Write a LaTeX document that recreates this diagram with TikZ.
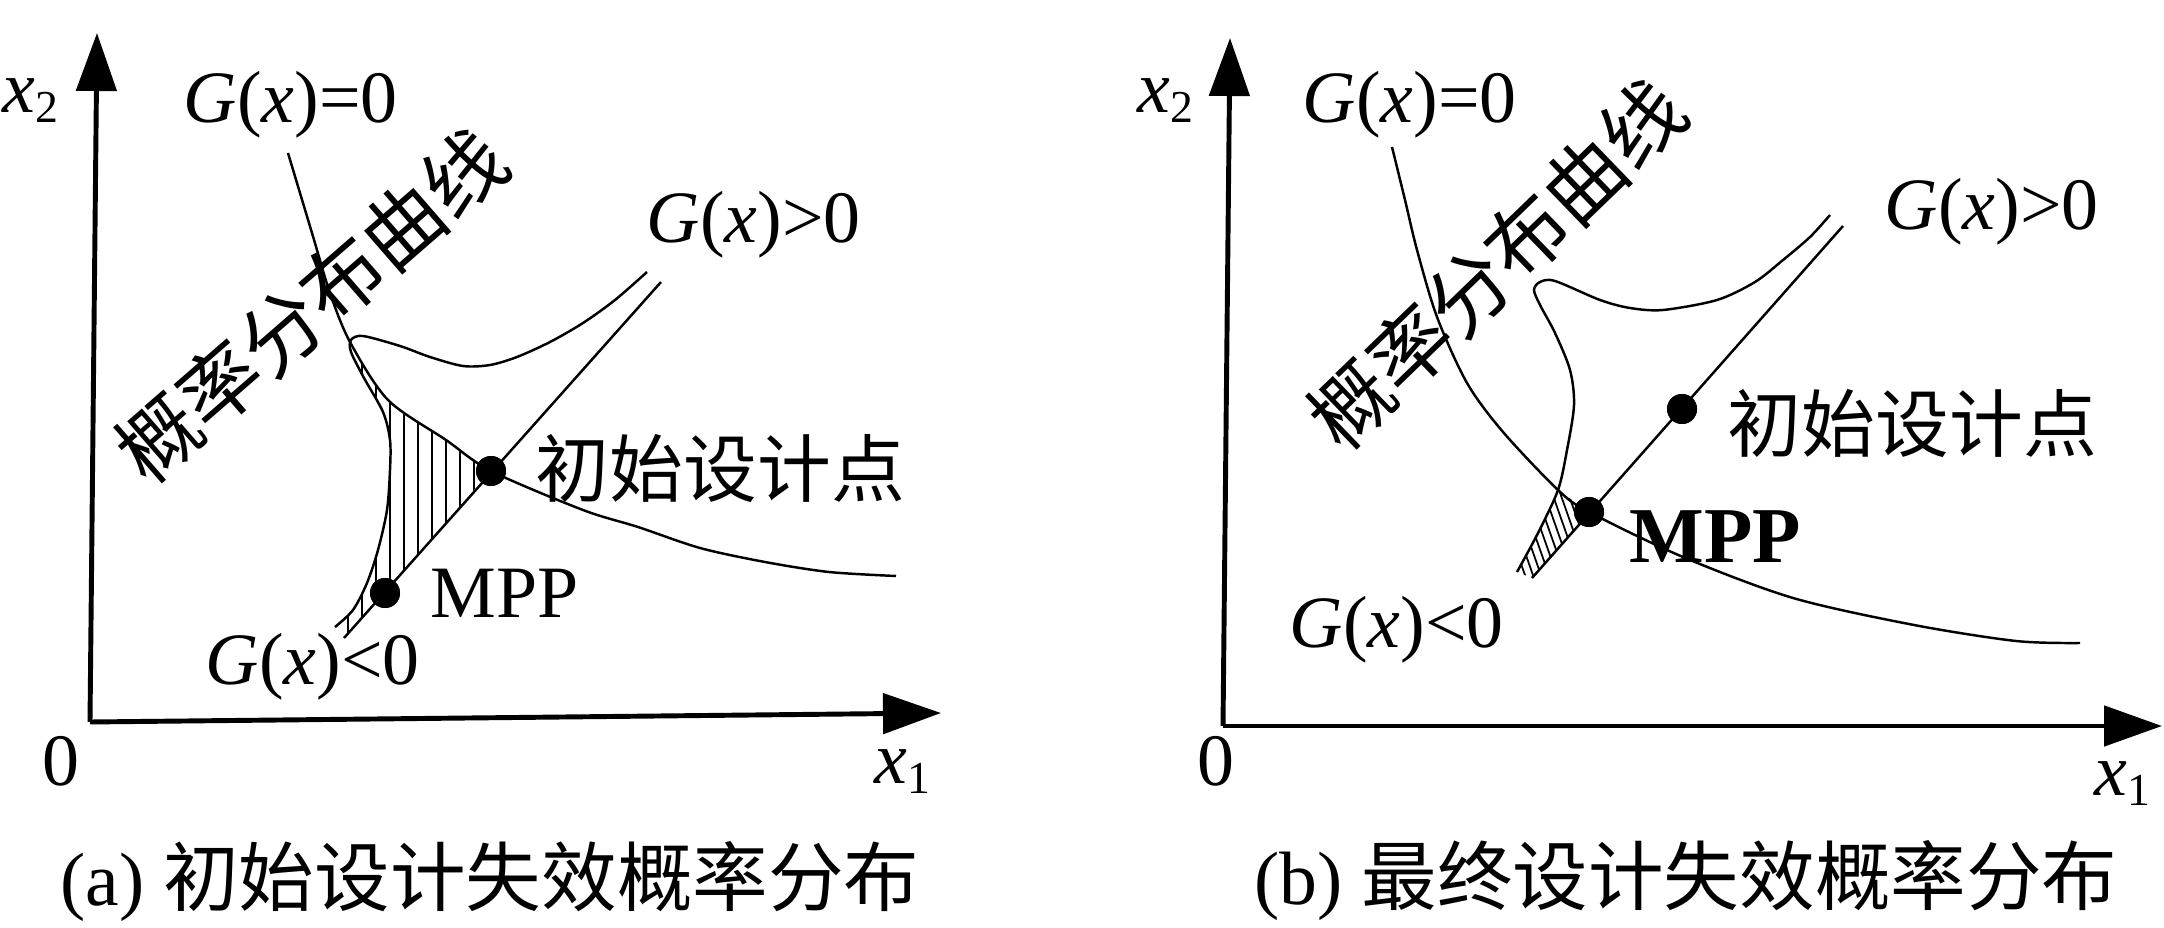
\documentclass[tikz,border=0pt]{standalone}
\usepackage{fontspec}
\setmainfont{Liberation Serif}
\newfontfamily\cjk{Noto Sans CJK SC}
\usetikzlibrary{arrows.meta}
\newcommand{\sbs}[1]{\raisebox{-0.1cm}{\fontsize{13}{13}\selectfont #1}}

\begin{document}
\begin{tikzpicture}[x=0.01cm, y=-0.01cm,
  axis/.style={line width=1.4pt, -{Triangle[length=0.58cm, width=0.40cm]}},
  curve/.style={line width=0.7pt},
  hatch/.style={line width=0.5pt},
  dot/.style={circle, fill=black, inner sep=0pt, minimum size=0.3cm},
  lbl/.style={inner sep=0pt, font=\fontsize{21}{25}\selectfont},
  rot/.style={inner sep=0pt, font=\fontsize{23}{27}\selectfont\cjk},
  capt/.style={inner sep=0pt, font=\fontsize{21.5}{26}\selectfont}]
\useasboundingbox (0,0) rectangle (2164,928);

% (a) initial design
\coordinate (oA) at (90,722);
\coordinate (yA) at (97,33);
\coordinate (xA) at (941,713);
\coordinate (lineAlo) at (344,638);
\coordinate (lineAhi) at (661,282);
\node [dot] (mppA) at (385,593) {};
\node [dot] (initA) at (491,471) {};
\begin{scope} % hatched failure zone
\clip plot[smooth] coordinates {(349,343) (364,378) (383,412) (390,440) (390,470) (387,510) (378,550) (367,583) (353,610) (335,627)}
  -- (lineAlo) -- (initA.center)
  -- plot[smooth] coordinates {(446,440) (388,400) (350,342)} -- cycle;
\foreach \h in {306,320,...,500} \draw [hatch] (\h,320) -- (\h,650);
\end{scope}
\draw [axis] (oA) -- (yA);
\draw [axis] (oA) -- (xA);
\draw [curve] plot[smooth] coordinates {(288,153) (312,233) (330,293) (350,342) (388,400) (446,440) (491,471) (583,510) (638,527) (700,548) (765,562) (829,572) (896,576)};
\draw [curve] plot[smooth] coordinates {(335,627) (353,610) (367,583) (378,550) (387,510) (390,470) (390,440) (383,412) (364,378) (351,352) (351,340) (363,336) (400,346) (430,357) (463,366) (490,365) (517,357) (550,342) (583,323) (615,300) (647,272)};
\draw [curve] (lineAlo) -- (lineAhi);
\node [dot] at (mppA) {};
\node [dot] at (initA) {};
\node [lbl, anchor=base west] (x2A) at (2,113) {\textit{x}\sbs{2}};
\node [lbl, anchor=base] (zeroA) at (61,785) {0};
\node [lbl, anchor=base west] (x1A) at (874,783) {\textit{x}\sbs{1}};
\node [lbl, anchor=base west] (geqA) at (183,123) {\textit{G}(\textit{x})=0};
\node [lbl, anchor=base west] (gtA) at (646,243) {\textit{G}(\textit{x})>0};
\node [lbl, anchor=base west] (ltA) at (205,685) {\textit{G}(\textit{x})<0};
\node [lbl, anchor=west] (initlA) at (535,469) {\cjk 初始设计点};
\node [lbl, anchor=base west] (mpplA) at (430,618) {MPP};
\node [rot, rotate=41] (pdfA) at (311,305) {概率分布曲线};
\node [capt] (capA) at (490,882) {(a) {\cjk 初始设计失效概率分布}};

% (b) final design
\coordinate (oB) at (1223,726);
\coordinate (yB) at (1230,38);
\coordinate (xB) at (2162,726);
\coordinate (lineBlo) at (1532,578);
\coordinate (lineBhi) at (1843,226);
\node [dot] (mppB) at (1589,512) {};
\node [dot] (initB) at (1682,409) {};
\begin{scope} % hatched failure zone
\clip plot[smooth] coordinates {(1558,490) (1538,533) (1517,572)}
  -- (lineBlo) -- (mppB.center) -- cycle;
\foreach \h in {1440,1448,...,1600} \draw [hatch] (\h,470) -- ++(45,128);
\end{scope}
\draw [axis] (oB) -- (yB);
\draw [axis] (oB) -- (xB);
\draw [curve] plot[smooth] coordinates {(1392,147) (1405,200) (1417,250) (1437,317) (1467,383) (1503,432) (1558,490) (1589,512) (1683,557) (1793,598) (1914,625) (2016,641) (2080,643)};
\draw [curve] plot[smooth] coordinates {(1517,572) (1538,533) (1558,490) (1567,450) (1574,405) (1570,370) (1555,333) (1540,305) (1534,290) (1540,282) (1555,281) (1600,300) (1630,308) (1663,310) (1717,300) (1755,282) (1783,260) (1810,237) (1830,215)};
\draw [curve] (lineBlo) -- (lineBhi);
\node [dot] at (mppB) {};
\node [dot] at (initB) {};
\node [lbl, anchor=base west] (x2B) at (1137,113) {\textit{x}\sbs{2}};
\node [lbl, anchor=base] (zeroB) at (1216,785) {0};
\node [lbl, anchor=base west] (x1B) at (2094,795) {\textit{x}\sbs{1}};
\node [lbl, anchor=base west] (geqB) at (1302,123) {\textit{G}(\textit{x})=0};
\node [lbl, anchor=base west] (gtB) at (1884,230) {\textit{G}(\textit{x})>0};
\node [lbl, anchor=base west] (ltB) at (1289,648) {\textit{G}(\textit{x})<0};
\node [lbl, anchor=west] (initlB) at (1727,424) {\cjk 初始设计点};
\node [lbl, anchor=base west, font=\fontsize{22.5}{26}\selectfont\bfseries] (mpplB) at (1629,563) {MPP};
\node [rot, rotate=44] (pdfB) at (1497,264) {概率分布曲线};
\node [capt] (capB) at (1686,881) {(b) {\cjk 最终设计失效概率分布}};
\end{tikzpicture}
\end{document}
